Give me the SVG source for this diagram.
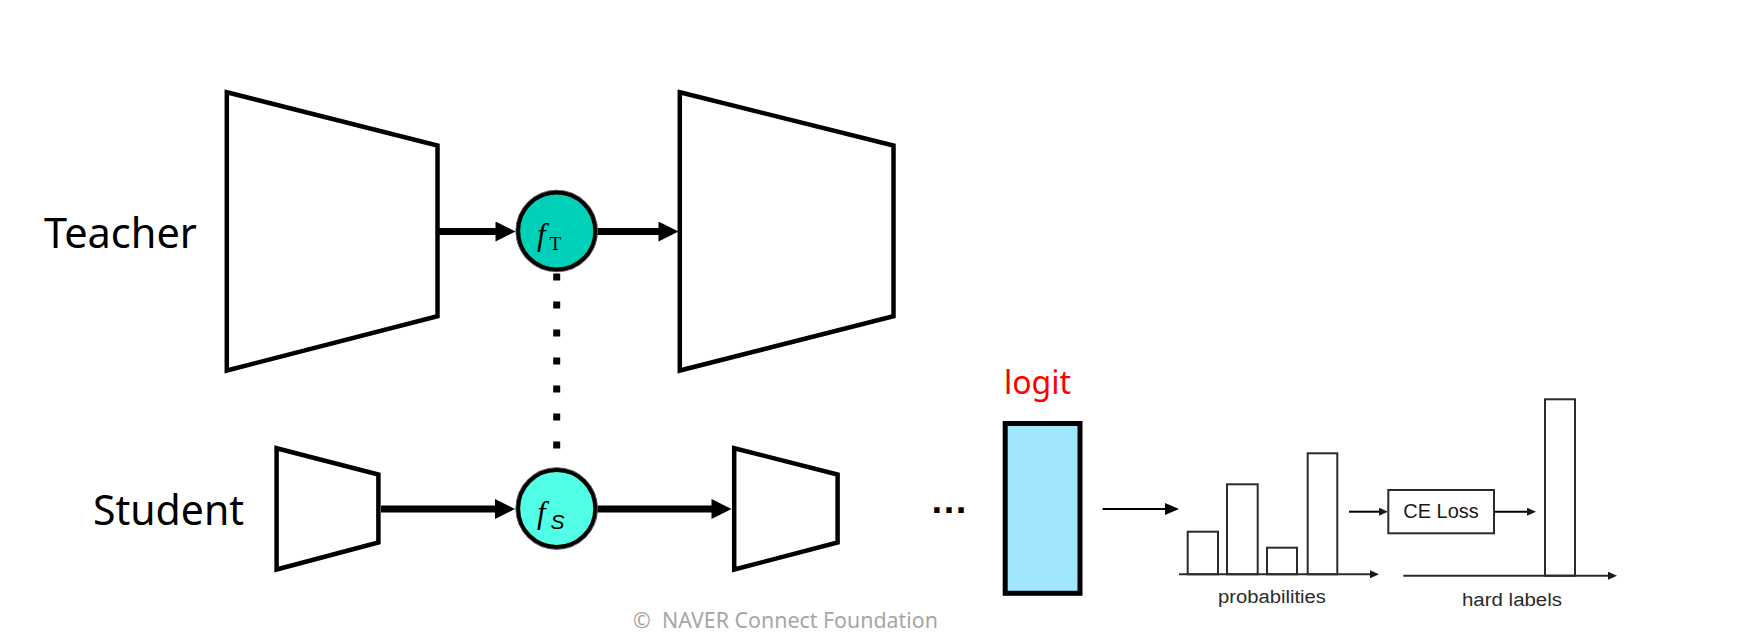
<svg xmlns="http://www.w3.org/2000/svg" width="1754" height="632" viewBox="0 0 1754 632">
  <style>
    .trap { fill: #ffffff; stroke: #000000; stroke-width: 4.5; stroke-linejoin: miter; }
    .thick { stroke: #000000; stroke-width: 7; fill: none; }
    .thin { stroke: #000000; stroke-width: 2; fill: none; }
    .axis { stroke: #2b2b2b; stroke-width: 2; fill: none; }
    .bar { fill: #ffffff; stroke: #2b2b2b; stroke-width: 2; }
    .label { font-family: "Noto Sans", "Open Sans", sans-serif; font-size: 41px; fill: #000000; }
    .small { font-family: "Liberation Sans", Arial, sans-serif; font-size: 18px; fill: #2b2b2b; }
    .node { stroke: #000000; stroke-width: 4.5; }
    .fi { font-family: "Liberation Serif", "Times New Roman", serif; font-style: italic; font-size: 31px; fill: #000000; }
  </style>
  <defs>
    <marker id="headBig" viewBox="0 0 20 20" refX="1" refY="10" markerWidth="21" markerHeight="20" markerUnits="userSpaceOnUse" orient="auto">
      <path d="M0,0 L20,10 L0,20 z" fill="#000000"/>
    </marker>
    <marker id="headMid" viewBox="0 0 14 12" refX="1" refY="6" markerWidth="14" markerHeight="12" markerUnits="userSpaceOnUse" orient="auto">
      <path d="M0,0 L14,6 L0,12 z" fill="#000000"/>
    </marker>
    <marker id="headSmall" viewBox="0 0 9 8" refX="1" refY="4" markerWidth="9" markerHeight="8" markerUnits="userSpaceOnUse" orient="auto">
      <path d="M0,0 L9,4 L0,8 z" fill="#1a1a1a"/>
    </marker>
  </defs>

  <rect x="0" y="0" width="1754" height="632" fill="#ffffff"/>

  <!-- labels -->
  <text id="teacher-label" class="label" x="44" y="248" textLength="153" lengthAdjust="spacingAndGlyphs">Teacher</text>
  <text id="student-label" class="label" x="93" y="525" textLength="151" lengthAdjust="spacingAndGlyphs">Student</text>

  <!-- connectors -->
  <g id="connectors">
    <line x1="556.7" y1="273.5" x2="556.7" y2="470" stroke="#000000" stroke-width="7" stroke-dasharray="7 21"/>
    <line class="thick" x1="439" y1="231.5" x2="496.5" y2="231.5" marker-end="url(#headBig)"/>
    <line class="thick" x1="597" y1="231.5" x2="659.5" y2="231.5" marker-end="url(#headBig)"/>
    <line class="thick" x1="381" y1="509" x2="496" y2="509" marker-end="url(#headBig)"/>
    <line class="thick" x1="597" y1="509" x2="712.5" y2="509" marker-end="url(#headBig)"/>
    <line class="thin" x1="1102.6" y1="509" x2="1166" y2="509" marker-end="url(#headMid)"/>
    <line class="thin" x1="1349" y1="511.7" x2="1380" y2="511.7" stroke-width="1.8" marker-end="url(#headSmall)"/>
    <line class="thin" x1="1495" y1="511.7" x2="1528" y2="511.7" stroke-width="1.8" marker-end="url(#headSmall)"/>
  </g>

  <!-- teacher network -->
  <g id="teacher-encoder">
    <polygon class="trap" points="226.8,92.3 437.5,145.5 437.5,316.2 226.8,370.5"/>
  </g>
  <g id="teacher-decoder">
    <polygon class="trap" points="679.8,92.3 893.5,145.5 893.5,316.2 679.8,370.5"/>
  </g>
  <g id="teacher-feature">
    <circle class="node" cx="556.7" cy="231" r="38.8" fill="#00d0b8"/>
    <circle cx="556.7" cy="231" r="40.8" fill="none" stroke="#6e6e6e" stroke-width="0.8"/>
    <text class="fi" x="537" y="245">f</text>
    <text x="549.5" y="249.5" font-family="Liberation Serif, Times New Roman, serif" font-size="19" fill="#000000">T</text>
  </g>

  <!-- student network -->
  <g id="student-encoder">
    <polygon class="trap" points="276.6,448.2 378.4,474.5 378.4,542.5 276.6,569.5"/>
  </g>
  <g id="student-decoder">
    <polygon class="trap" points="734.2,448.2 837.6,474.5 837.6,542.5 734.2,569.5"/>
  </g>
  <g id="student-feature">
    <circle class="node" cx="556.7" cy="508.5" r="38.8" fill="#50ffe6"/>
    <circle cx="556.7" cy="508.5" r="40.8" fill="none" stroke="#6e6e6e" stroke-width="0.8"/>
    <text class="fi" x="537" y="523">f</text>
    <text x="550.5" y="529.3" font-family="Liberation Sans, Arial, sans-serif" font-style="italic" font-size="21" fill="#000000">S</text>
  </g>

  <!-- ellipsis -->
  <text id="ellipsis" x="930" y="513" font-family="Liberation Sans, Arial, sans-serif" font-weight="bold" font-size="38" fill="#000000">…</text>

  <!-- logit -->
  <g id="logit">
    <text x="1004" y="394" font-family="Noto Sans, Open Sans, sans-serif" font-size="32" fill="#ff0000">logit</text>
    <rect x="1005.2" y="423.5" width="74.8" height="169.8" fill="#a0e6fd" stroke="#000000" stroke-width="5"/>
  </g>

  <!-- probabilities chart -->
  <g id="probabilities">
    <rect class="bar" x="1187.7" y="531.7" width="30.3" height="42.6"/>
    <rect class="bar" x="1227" y="484.3" width="30.7" height="90"/>
    <rect class="bar" x="1267" y="547.7" width="30" height="26.6"/>
    <rect class="bar" x="1307.7" y="453.3" width="29.6" height="121"/>
    <line class="axis" x1="1179" y1="574.3" x2="1371" y2="574.3" marker-end="url(#headSmall)"/>
    <text class="small" x="1218" y="603.3" textLength="108" lengthAdjust="spacingAndGlyphs">probabilities</text>
  </g>

  <!-- CE loss -->
  <g id="ce-loss">
    <rect x="1388.3" y="490" width="105.7" height="43.3" fill="#ffffff" stroke="#2b2b2b" stroke-width="2"/>
    <text x="1441" y="518.3" text-anchor="middle" font-family="Liberation Sans, Arial, sans-serif" font-size="20" fill="#1a1a1a">CE Loss</text>
  </g>

  <!-- hard labels chart -->
  <g id="hard-labels">
    <rect class="bar" x="1545" y="399.3" width="30" height="176.4"/>
    <line class="axis" x1="1403.3" y1="575.7" x2="1609" y2="575.7" marker-end="url(#headSmall)"/>
    <text class="small" x="1462" y="606" textLength="100" lengthAdjust="spacingAndGlyphs">hard labels</text>
  </g>

  <!-- watermark -->
  <text id="watermark" x="633" y="628" font-family="Noto Sans, Open Sans, sans-serif" font-size="22" fill="#a6a6a6" textLength="305" lengthAdjust="spacingAndGlyphs" xml:space="preserve">©  NAVER Connect Foundation</text>
</svg>
